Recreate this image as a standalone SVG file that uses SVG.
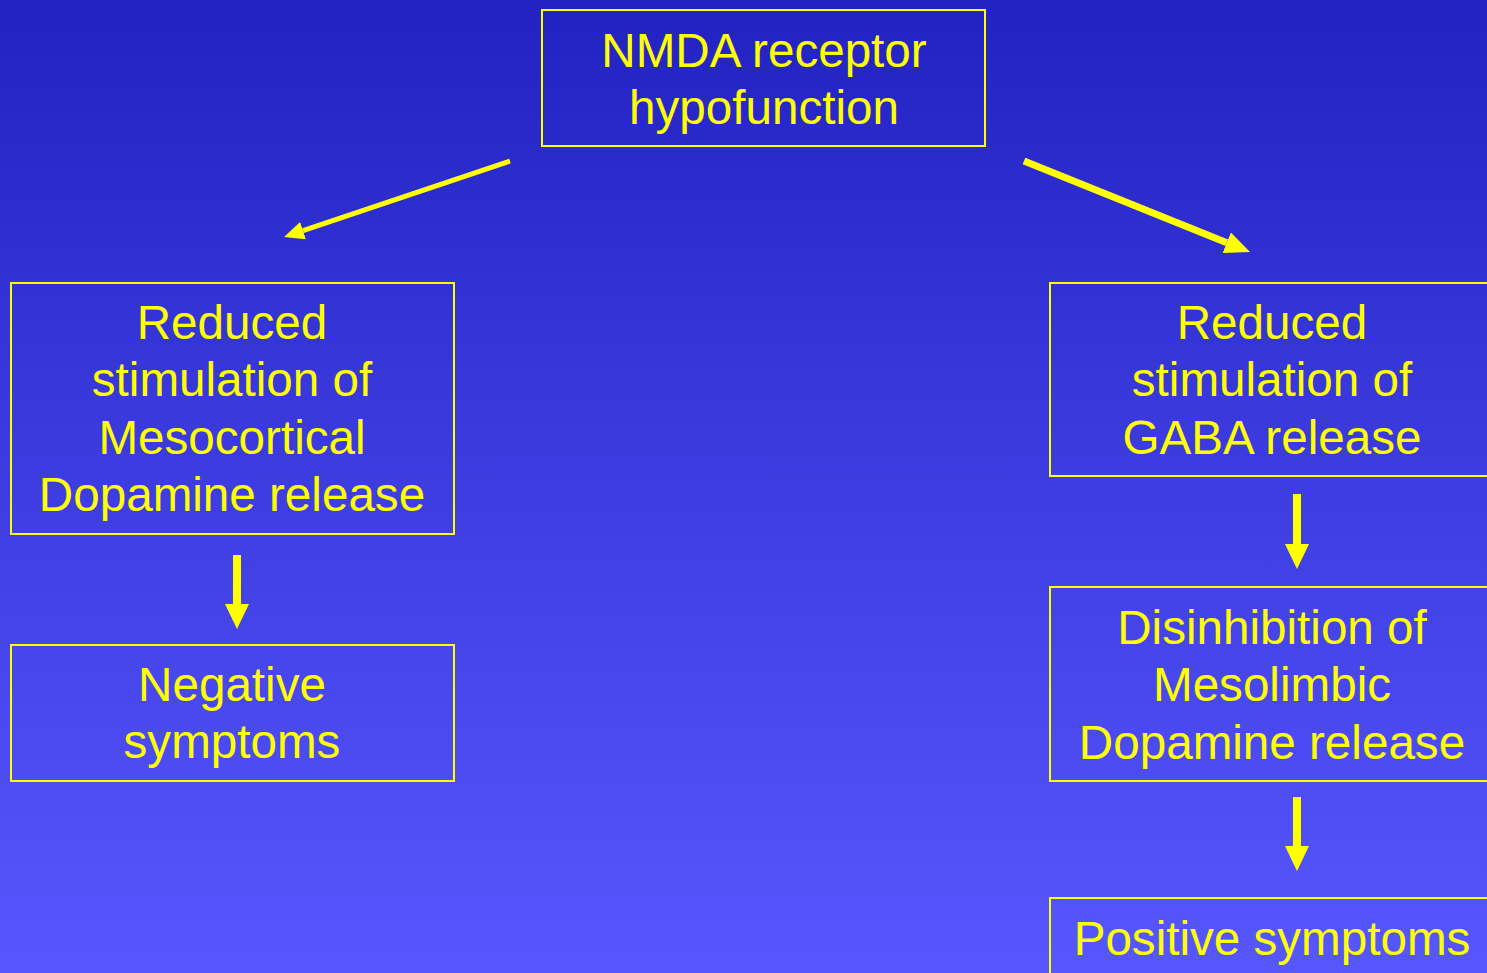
<svg xmlns="http://www.w3.org/2000/svg" width="1487" height="973" viewBox="0 0 1487 973">
<style>
.box{fill:none;stroke:#FFFF00;stroke-width:2}
.t{font-family:"Liberation Sans",Arial,sans-serif;font-size:47.6px;fill:#FFFF00;text-anchor:middle}
.c{stroke:#FFFF00;fill:none}
</style>
<defs>
<linearGradient id="bg" x1="0" y1="0" x2="0" y2="1">
<stop offset="0" stop-color="#2222C2"/>
<stop offset="1" stop-color="#5757FF"/>
</linearGradient>
<marker id="hv" markerUnits="userSpaceOnUse" markerWidth="26" markerHeight="24" refX="0" refY="12" orient="auto" viewBox="0 0 26 24">
<path d="M0,0 L25,12 L0,24 z" fill="#FFFF00"/>
</marker>
<marker id="hl" markerUnits="userSpaceOnUse" markerWidth="21" markerHeight="18" refX="0" refY="9" orient="auto" viewBox="0 0 21 18">
<path d="M0,0 L20,9 L0,18 z" fill="#FFFF00"/>
</marker>
<marker id="hr" markerUnits="userSpaceOnUse" markerWidth="26" markerHeight="22" refX="0" refY="11" orient="auto" viewBox="0 0 26 22">
<path d="M0,0 L25,11 L0,22 z" fill="#FFFF00"/>
</marker>
</defs>
<rect x="0" y="0" width="1487" height="973" fill="url(#bg)"/>
<g id="connectors">
<line class="c" x1="510" y1="161" x2="303" y2="230.6" stroke-width="5" marker-end="url(#hl)"/>
<line class="c" x1="1024" y1="161" x2="1226.8" y2="242.7" stroke-width="7" marker-end="url(#hr)"/>
<line class="c" x1="237" y1="555" x2="237" y2="604" stroke-width="8" marker-end="url(#hv)"/>
<line class="c" x1="1297" y1="494" x2="1297" y2="544" stroke-width="8" marker-end="url(#hv)"/>
<line class="c" x1="1297" y1="797" x2="1297" y2="846" stroke-width="8" marker-end="url(#hv)"/>
</g>
<g id="nmda">
<rect class="box" x="542" y="10" width="443" height="136"/>
<text class="t" x="764" y="67">NMDA receptor</text>
<text class="t" x="764" y="124">hypofunction</text>
</g>
<g id="mesocortical">
<rect class="box" x="11" y="283" width="443" height="251"/>
<text class="t" x="232" y="339">Reduced</text>
<text class="t" x="232" y="396">stimulation of</text>
<text class="t" x="232" y="454">Mesocortical</text>
<text class="t" x="232" y="511">Dopamine release</text>
</g>
<g id="negative">
<rect class="box" x="11" y="645" width="443" height="136"/>
<text class="t" x="232" y="701">Negative</text>
<text class="t" x="232" y="758">symptoms</text>
</g>
<g id="gaba">
<rect class="box" x="1050" y="283" width="445" height="193"/>
<text class="t" x="1272" y="339">Reduced</text>
<text class="t" x="1272" y="396">stimulation of</text>
<text class="t" x="1272" y="454">GABA release</text>
</g>
<g id="mesolimbic">
<rect class="box" x="1050" y="587" width="445" height="194"/>
<text class="t" x="1272" y="644">Disinhibition of</text>
<text class="t" x="1272" y="701">Mesolimbic</text>
<text class="t" x="1272" y="759">Dopamine release</text>
</g>
<g id="positive">
<rect class="box" x="1050" y="898" width="445" height="90"/>
<text class="t" x="1272" y="955">Positive symptoms</text>
</g>
</svg>
